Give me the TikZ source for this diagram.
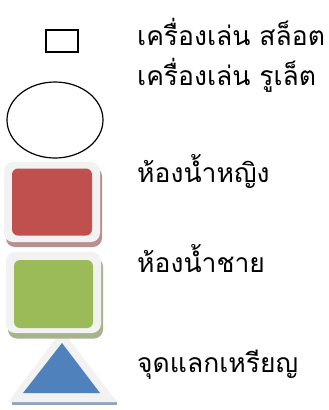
\documentclass[tikz,border=0pt]{standalone}
\usepackage{fontspec}
\usetikzlibrary{shapes.geometric}
\newfontfamily\thaifont[Script=Thai]{Loma}
\definecolor{framegray}{HTML}{F2F2F2}
\definecolor{ladyred}{HTML}{C0504D}
\definecolor{ladyshadow}{HTML}{B89090}
\definecolor{gentgreen}{HTML}{9BBB59}
\definecolor{gentshadow}{HTML}{A7B38C}
\definecolor{coinblue}{HTML}{4F81BD}
\definecolor{coinshadow}{HTML}{93A3BE}
\begin{document}
\begin{tikzpicture}[x=1pt,y=-1pt,
  legend text/.style={anchor=base west, inner sep=0pt, font=\thaifont\fontsize{26.5}{30}\selectfont},
  tile frame/.style={rectangle, rounded corners=9pt, fill=framegray, inner sep=0pt},
  tile face/.style={rectangle, rounded corners=6pt, inner sep=0pt}]

  \useasboundingbox (0,0) rectangle (329,410);

  % symbols
  \node[draw, line width=1.2pt, minimum width=32pt, minimum height=22pt, inner sep=0pt] (slot) at (62,41) {};
  \node[draw, ellipse, line width=1.2pt, minimum width=96pt, minimum height=76pt, inner sep=0pt] (roulette) at (55,120) {};

  % coin exchange triangle
  \fill[coinshadow] (12,402) rectangle (117,405);
  \fill[framegray] (62,330) -- (117,402) -- (8,402) -- cycle;
  \fill[coinblue] (62,343) -- (100,393) -- (23,393) -- cycle;

  % ladies room
  \node[tile frame, fill=ladyshadow, minimum width=96pt, minimum height=80pt] at (54,207) {};
  \node[tile frame, minimum width=96pt, minimum height=80pt] (ladies) at (52,202) {};
  \node[tile face, fill=ladyred, minimum width=80pt, minimum height=67pt] at (ladies) {};

  % gents room
  \node[tile frame, fill=gentshadow, minimum width=95pt, minimum height=81pt] at (55.5,298) {};
  \node[tile frame, minimum width=95pt, minimum height=81pt] (gents) at (53.5,292.5) {};
  \node[tile face, fill=gentgreen, minimum width=79pt, minimum height=68pt] at (53.5,294) {};

  % labels
  \node[legend text] (lslot) at (137,45) {เครื่องเล่น สล็อต};
  \node[legend text] (lroulette) at (137,85) {เครื่องเล่น รูเล็ต};
  \node[legend text] (lladies) at (137,182) {ห้องน้ำหญิง};
  \node[legend text] (lgents) at (137,272) {ห้องน้ำชาย};
  \node[legend text] (lexchange) at (137,372) {จุดแลกเหรียญ};

\end{tikzpicture}
\end{document}
